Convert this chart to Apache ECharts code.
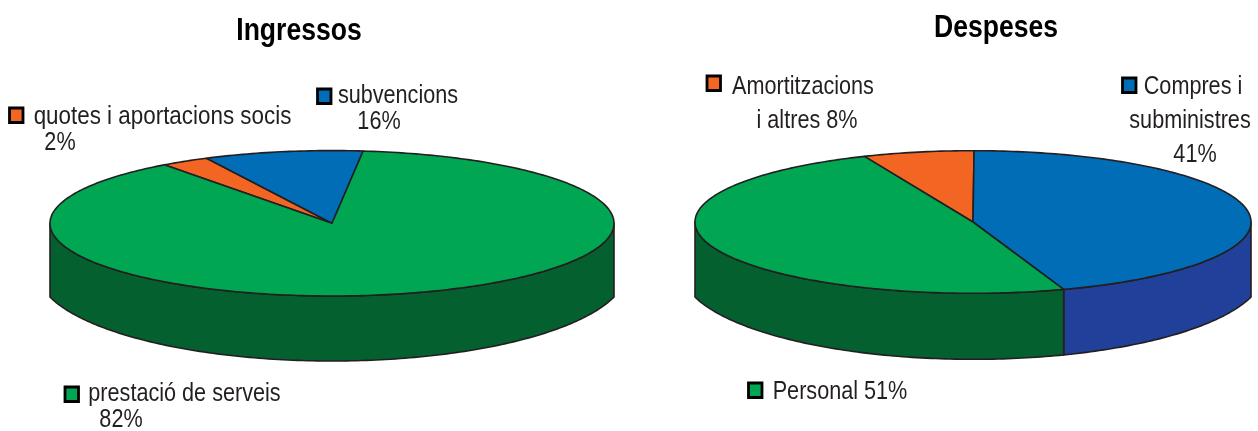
<!DOCTYPE html>
<html>
<head>
<meta charset="utf-8">
<title>Ingressos i Despeses</title>
<style>
  html, body { margin: 0; padding: 0; background: #fff; }
  #chart { width: 1258px; height: 431px; }
</style>
<script src="https://cdn.jsdelivr.net/npm/echarts@6/dist/echarts.min.js"></script>
</head>
<body>
<div id="chart"></div>
<script>
// slices in clockwise order, sizes as drawn in the picture (they differ from the printed %)
const ingressosCategories = ['quotes i aportacions socis', 'subvencions', 'prestació de serveis']
const ingressosShares = [2.8, 9.1, 88.1]
const ingressosLabels = [['quotes i aportacions socis', '2%'], ['subvencions', '16%'], ['prestació de serveis', '82%']]

const despesesCategories = ['Amortitzacions i altres', 'Compres i subministres', 'Personal']
const despesesShares = [6.45, 44.65, 48.9]
const despesesLabels = [['Amortitzacions', 'i altres 8%'], ['Compres i', 'subministres', '41%'], ['Personal 51%']]

const titles = ['Ingressos', 'Despeses']

const ORANGE = '#F26522'
const BLUE = '#006DB6'
const GREEN = '#00A651'
const INK = '#231F20'
const sliceColors = [ORANGE, BLUE, GREEN]
const wallColors = ['#B5491A', '#21409A', '#056030']

// the original is squeezed horizontally, text has to follow
const TITLE_SQUEEZE = 0.83
const LABEL_SQUEEZE = 0.865

// lower: the wall's bottom edge is a wider ellipse, so it meets the side walls at a corner
const pieLeft = { cx: 332, cy: 223.3, rx: 282, ry: 72.7, start: -36.5, lower: { rx: 295, cy: 270.4, ry: 90.6 } }
const pieRight = { cx: 973, cy: 222, rx: 278, ry: 71.3, start: -23, lower: { rx: 291, cy: 270.9, ry: 88.4 } }

const point = (pie, deg) => {
  const a = deg * Math.PI / 180
  return [pie.cx + pie.rx * Math.sin(a), pie.cy - pie.ry * Math.cos(a)]
}

const arc = (pie, from, to) => {
  const pts = []
  const n = Math.max(2, Math.ceil(Math.abs(to - from)))
  for (let i = 0; i <= n; i++) pts.push(point(pie, from + (to - from) * i / n))
  return pts
}

const lowerEdge = (pie, pts) => pts.map(([x]) => {
  const d = (x - pie.cx) / pie.lower.rx
  return [x, pie.lower.cy + pie.lower.ry * Math.sqrt(1 - d * d)]
})

// turn shares into [from, to] angles, 0 = top of the ellipse, clockwise
const toSlices = (categories, shares, start) => {
  let angle = start
  return categories.map((name, i) => {
    const from = angle
    angle += shares[i] * 3.6
    return { name, value: [from, angle] }
  })
}

const topSeries = (pie, categories, shares) => ({
  type: 'custom',
  coordinateSystem: 'none',
  silent: true,
  z: 3,
  data: toSlices(categories, shares, pie.start),
  renderItem: (params, api) => ({
    type: 'polygon',
    shape: { points: [[pie.cx, pie.cy], ...arc(pie, api.value(0), api.value(1))] },
    style: { fill: sliceColors[params.dataIndex], stroke: INK, lineWidth: 1.6, lineJoin: 'round' },
  }),
})

// only the front half of the rim is visible
const wallSeries = (pie, categories, shares) => ({
  type: 'custom',
  coordinateSystem: 'none',
  silent: true,
  z: 2,
  data: toSlices(categories, shares, pie.start),
  renderItem: (params, api) => {
    const from = Math.max(api.value(0), 90)
    const to = Math.min(api.value(1), 270)
    if (from >= to) return null
    const upper = arc(pie, from, to)
    return {
      type: 'polygon',
      shape: { points: [...upper, ...lowerEdge(pie, upper).reverse()] },
      style: { fill: wallColors[params.dataIndex], stroke: INK, lineWidth: 1.6, lineJoin: 'round' },
    }
  },
})

const labelFont = '25px "Liberation Sans", Arial, sans-serif'
const titleFont = 'bold 32px "Liberation Sans", Arial, sans-serif'

const text = (str, x, y, font, squeeze, fill) => ({
  type: 'text',
  x,
  y,
  scaleX: squeeze,
  silent: true,
  style: { text: str, font, fill, textAlign: 'center', textVerticalAlign: 'middle' },
})

const title = (str, x, y) => text(str, x, y, titleFont, TITLE_SQUEEZE, '#000')
const label = (str, x, y, squeeze = LABEL_SQUEEZE) => text(str, x, y, labelFont, squeeze, INK)

const marker = (x, y, color) => ({
  type: 'rect',
  x,
  y,
  silent: true,
  shape: { width: 13.5, height: 14.5 },
  style: { fill: color, stroke: '#000', lineWidth: 2.8 },
})

const graphics = [
  title(titles[0], 299, 31),
  title(titles[1], 996, 28),

  marker(9.5, 108, ORANGE),
  label(ingressosLabels[0][0], 162.5, 117, 0.896),
  label(ingressosLabels[0][1], 60, 143),

  marker(317.5, 89, BLUE),
  label(ingressosLabels[1][0], 398, 96),
  label(ingressosLabels[1][1], 379, 122),

  marker(65, 387, GREEN),
  label(ingressosLabels[2][0], 184.5, 394),
  label(ingressosLabels[2][1], 121, 420),

  marker(707, 76, ORANGE),
  label(despesesLabels[0][0], 803, 87),
  label(despesesLabels[0][1], 807, 121),

  marker(1122.5, 78, BLUE),
  label(despesesLabels[1][0], 1193, 87),
  label(despesesLabels[1][1], 1190, 121),
  label(despesesLabels[1][2], 1195, 155),

  marker(748.5, 383, GREEN),
  label(despesesLabels[2][0], 840, 392),
]

const chart = echarts.init(document.getElementById('chart'), null, { renderer: 'canvas' })
chart.setOption({
  backgroundColor: '#fff',
  animation: false,
  graphic: graphics,
  series: [
    wallSeries(pieLeft, ingressosCategories, ingressosShares),
    topSeries(pieLeft, ingressosCategories, ingressosShares),
    wallSeries(pieRight, despesesCategories, despesesShares),
    topSeries(pieRight, despesesCategories, despesesShares),
  ],
})
</script>
</body>
</html>
